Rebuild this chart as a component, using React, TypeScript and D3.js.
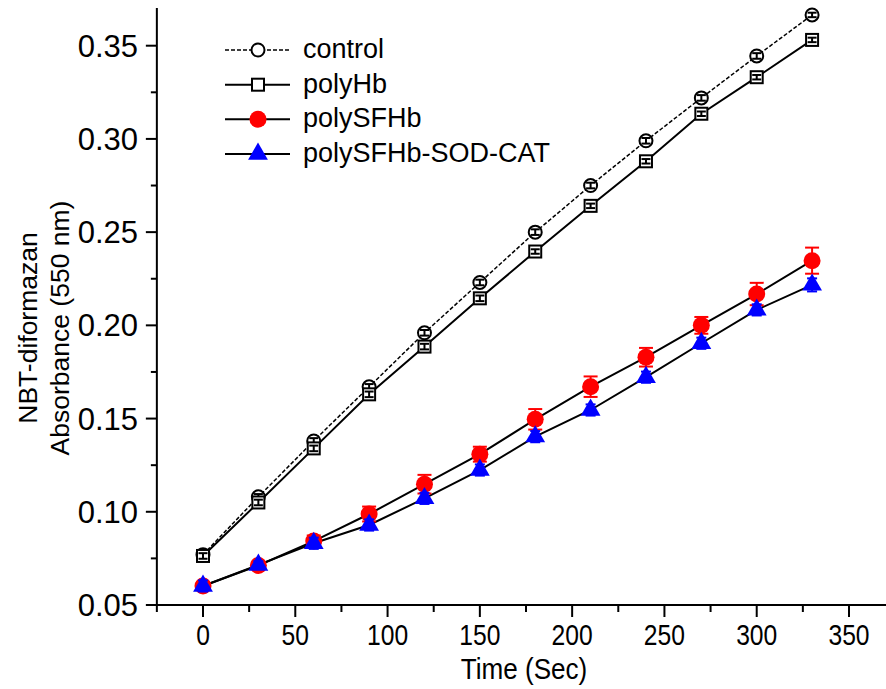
import { useEffect, useRef } from "react";
import * as d3 from "d3";

// time points (sec)
const times = [0, 30, 60, 90, 120, 150, 180, 210, 240, 270, 300, 330];

const control = [0.077, 0.108, 0.138, 0.167, 0.196, 0.223, 0.250, 0.275, 0.299, 0.322, 0.3445, 0.3665];
const controlErr = [0.0015, 0.0015, 0.0015, 0.0015, 0.0015, 0.0015, 0.0015, 0.0015, 0.0015, 0.0015, 0.0015, 0.0012];

const polyHb = [0.0763, 0.105, 0.134, 0.163, 0.1886, 0.2145, 0.2396, 0.2641, 0.288, 0.3135, 0.3331, 0.3531];
const polyHbErr = [0.0015, 0.0015, 0.0015, 0.0015, 0.0015, 0.0015, 0.0012, 0.0012, 0.0012, 0.0012, 0.0012, 0.0012];

const polySFHb = [0.0602, 0.0712, 0.0843, 0.0988, 0.1148, 0.1309, 0.1496, 0.1671, 0.1829, 0.2, 0.2168, 0.2347];
const polySFHbErr = [0.002, 0.002, 0.003, 0.004, 0.005, 0.004, 0.0055, 0.0055, 0.005, 0.0045, 0.006, 0.007];

const sodCat = [0.0602, 0.0715, 0.0831, 0.0929, 0.1072, 0.1224, 0.1403, 0.1546, 0.1722, 0.1904, 0.2083, 0.2217];
const sodCatErr = [0.003, 0.002, 0.003, 0.003, 0.003, 0.003, 0.003, 0.003, 0.003, 0.003, 0.003, 0.0035];

const seriesNames = ["control", "polyHb", "polySFHb", "polySFHb-SOD-CAT"];

const xTicks = [0, 50, 100, 150, 200, 250, 300, 350];
const xMinor = [-25, 25, 75, 125, 175, 225, 275, 325];
const yTicks = [0.05, 0.1, 0.15, 0.2, 0.25, 0.3, 0.35];
const yMinor = [0.075, 0.125, 0.175, 0.225, 0.275, 0.325];

const W = 886;
const H = 689;
const FONT = "'Liberation Sans', Arial, sans-serif";

type Series = {
  name: string;
  values: number[];
  errs: number[];
  shape: string;
  fill: string;
  color: string;
  dash: string | null;
  lw: number;
  cap: number;
};

const series: Series[] = [
  { name: seriesNames[0], values: control, errs: controlErr, shape: "circle", fill: "white", color: "black", dash: "4,2", lw: 1.5, cap: 9 },
  { name: seriesNames[1], values: polyHb, errs: polyHbErr, shape: "square", fill: "white", color: "black", dash: null, lw: 2, cap: 9 },
  { name: seriesNames[2], values: polySFHb, errs: polySFHbErr, shape: "circle2", fill: "#ff0000", color: "#ff0000", dash: null, lw: 2, cap: 14 },
  { name: seriesNames[3], values: sodCat, errs: sodCatErr, shape: "triangle", fill: "#0000ff", color: "#0000ff", dash: null, lw: 2, cap: 10 },
];

function drawMarker(g: any, s: Series, cx: number, cy: number) {
  if (s.shape === "circle") {
    g.append("circle").attr("cx", cx).attr("cy", cy).attr("r", 6.5)
      .attr("fill", "white").attr("stroke", "black").attr("stroke-width", 2);
  } else if (s.shape === "square") {
    g.append("rect").attr("x", cx - 6).attr("y", cy - 6).attr("width", 12).attr("height", 12)
      .attr("fill", "white").attr("stroke", "black").attr("stroke-width", 2);
  } else if (s.shape === "circle2") {
    g.append("circle").attr("cx", cx).attr("cy", cy).attr("r", 8.5).attr("fill", s.fill);
  } else {
    g.append("path").attr("d", d3.symbol().type(d3.symbolTriangle).size(170)())
      .attr("transform", `translate(${cx},${cy})`).attr("fill", s.fill);
  }
}

export default function App() {
  const ref = useRef<SVGSVGElement>(null);

  useEffect(() => {
    const svg = d3.select(ref.current);
    svg.selectAll("*").remove();

    const x = d3.scaleLinear().domain([0, 350]).range([203, 849]);
    const y = d3.scaleLinear().domain([0.05, 0.35]).range([605, 45.7]);
    const x0 = x(-25);
    const y0 = y(0.05);

    const axes = svg.append("g").attr("stroke", "black").attr("stroke-width", 2);
    // axis lines
    axes.append("line").attr("x1", x0).attr("x2", W).attr("y1", y0).attr("y2", y0);
    axes.append("line").attr("x1", x0).attr("x2", x0).attr("y1", 8).attr("y2", y0);
    xTicks.forEach(t => axes.append("line").attr("x1", x(t)).attr("x2", x(t)).attr("y1", y0).attr("y2", y0 + 12));
    xMinor.forEach(t => axes.append("line").attr("x1", x(t)).attr("x2", x(t)).attr("y1", y0).attr("y2", y0 + 7));
    yTicks.forEach(t => axes.append("line").attr("x1", x0 - 11).attr("x2", x0).attr("y1", y(t)).attr("y2", y(t)));
    yMinor.forEach(t => axes.append("line").attr("x1", x0 - 6).attr("x2", x0).attr("y1", y(t)).attr("y2", y(t)));

    const labels = svg.append("g").attr("font-family", FONT).attr("fill", "black");
    xTicks.forEach(t => labels.append("text")
      .attr("transform", `translate(${x(t)},645) scale(0.85,1)`)
      .attr("text-anchor", "middle").attr("font-size", 29).text(String(t)));
    yTicks.forEach(t => labels.append("text").attr("x", 138).attr("y", y(t) + 11)
      .attr("text-anchor", "end").attr("font-size", 31).text(d3.format(".2f")(t)));
    labels.append("text").attr("transform", "translate(524,679) scale(0.9,1)").attr("text-anchor", "middle")
      .attr("font-size", 29).text("Time (Sec)");
    labels.append("text").attr("transform", "translate(37,328) rotate(-90)").attr("text-anchor", "middle")
      .attr("font-size", 26.5).text("NBT-diformazan");
    labels.append("text").attr("transform", "translate(69,328) rotate(-90)").attr("text-anchor", "middle")
      .attr("font-size", 26.5).text("Absorbance (550 nm)");

    const plot = svg.append("g");
    const line = d3.line<number>().x((_, i) => x(times[i])).y(d => y(d));

    series.forEach(s => {
      plot.append("path").attr("d", line(s.values)).attr("fill", "none")
        .attr("stroke", "black").attr("stroke-width", s.lw)
        .attr("stroke-dasharray", s.dash);
    });

    series.forEach(s => {
      const g = plot.append("g");
      const eb = (gg: any) => s.values.forEach((v, i) => {
        const cx = x(times[i]);
        const top = y(v + s.errs[i]);
        const bot = y(v - s.errs[i]);
        gg.append("line").attr("x1", cx).attr("x2", cx).attr("y1", top).attr("y2", bot)
          .attr("stroke", s.color).attr("stroke-width", 2);
        [top, bot].forEach(yy => gg.append("line").attr("x1", cx - s.cap / 2).attr("x2", cx + s.cap / 2)
          .attr("y1", yy).attr("y2", yy).attr("stroke", s.color).attr("stroke-width", 2));
      });
      if (s.color !== "black") eb(g);
      s.values.forEach((v, i) => drawMarker(g, s, x(times[i]), y(v)));
      if (s.color === "black") eb(g);
    });

    // legend
    const leg = svg.append("g");
    const rows = [50, 84.7, 119.3, 154];
    series.forEach((s, i) => {
      const ry = rows[i];
      leg.append("line").attr("x1", 225).attr("x2", 290).attr("y1", ry).attr("y2", ry)
        .attr("stroke", "black").attr("stroke-width", s.lw).attr("stroke-dasharray", s.dash);
      drawMarker(leg, s, 258, ry);
      leg.append("text").attr("x", 303).attr("y", ry + 8).attr("font-family", FONT)
        .attr("font-size", 27).text(s.name);
    });
  }, []);

  return (
    <svg ref={ref} width={W} height={H}
      style={{ position: "absolute", left: 0, top: 0, background: "white" }} />
  );
}
